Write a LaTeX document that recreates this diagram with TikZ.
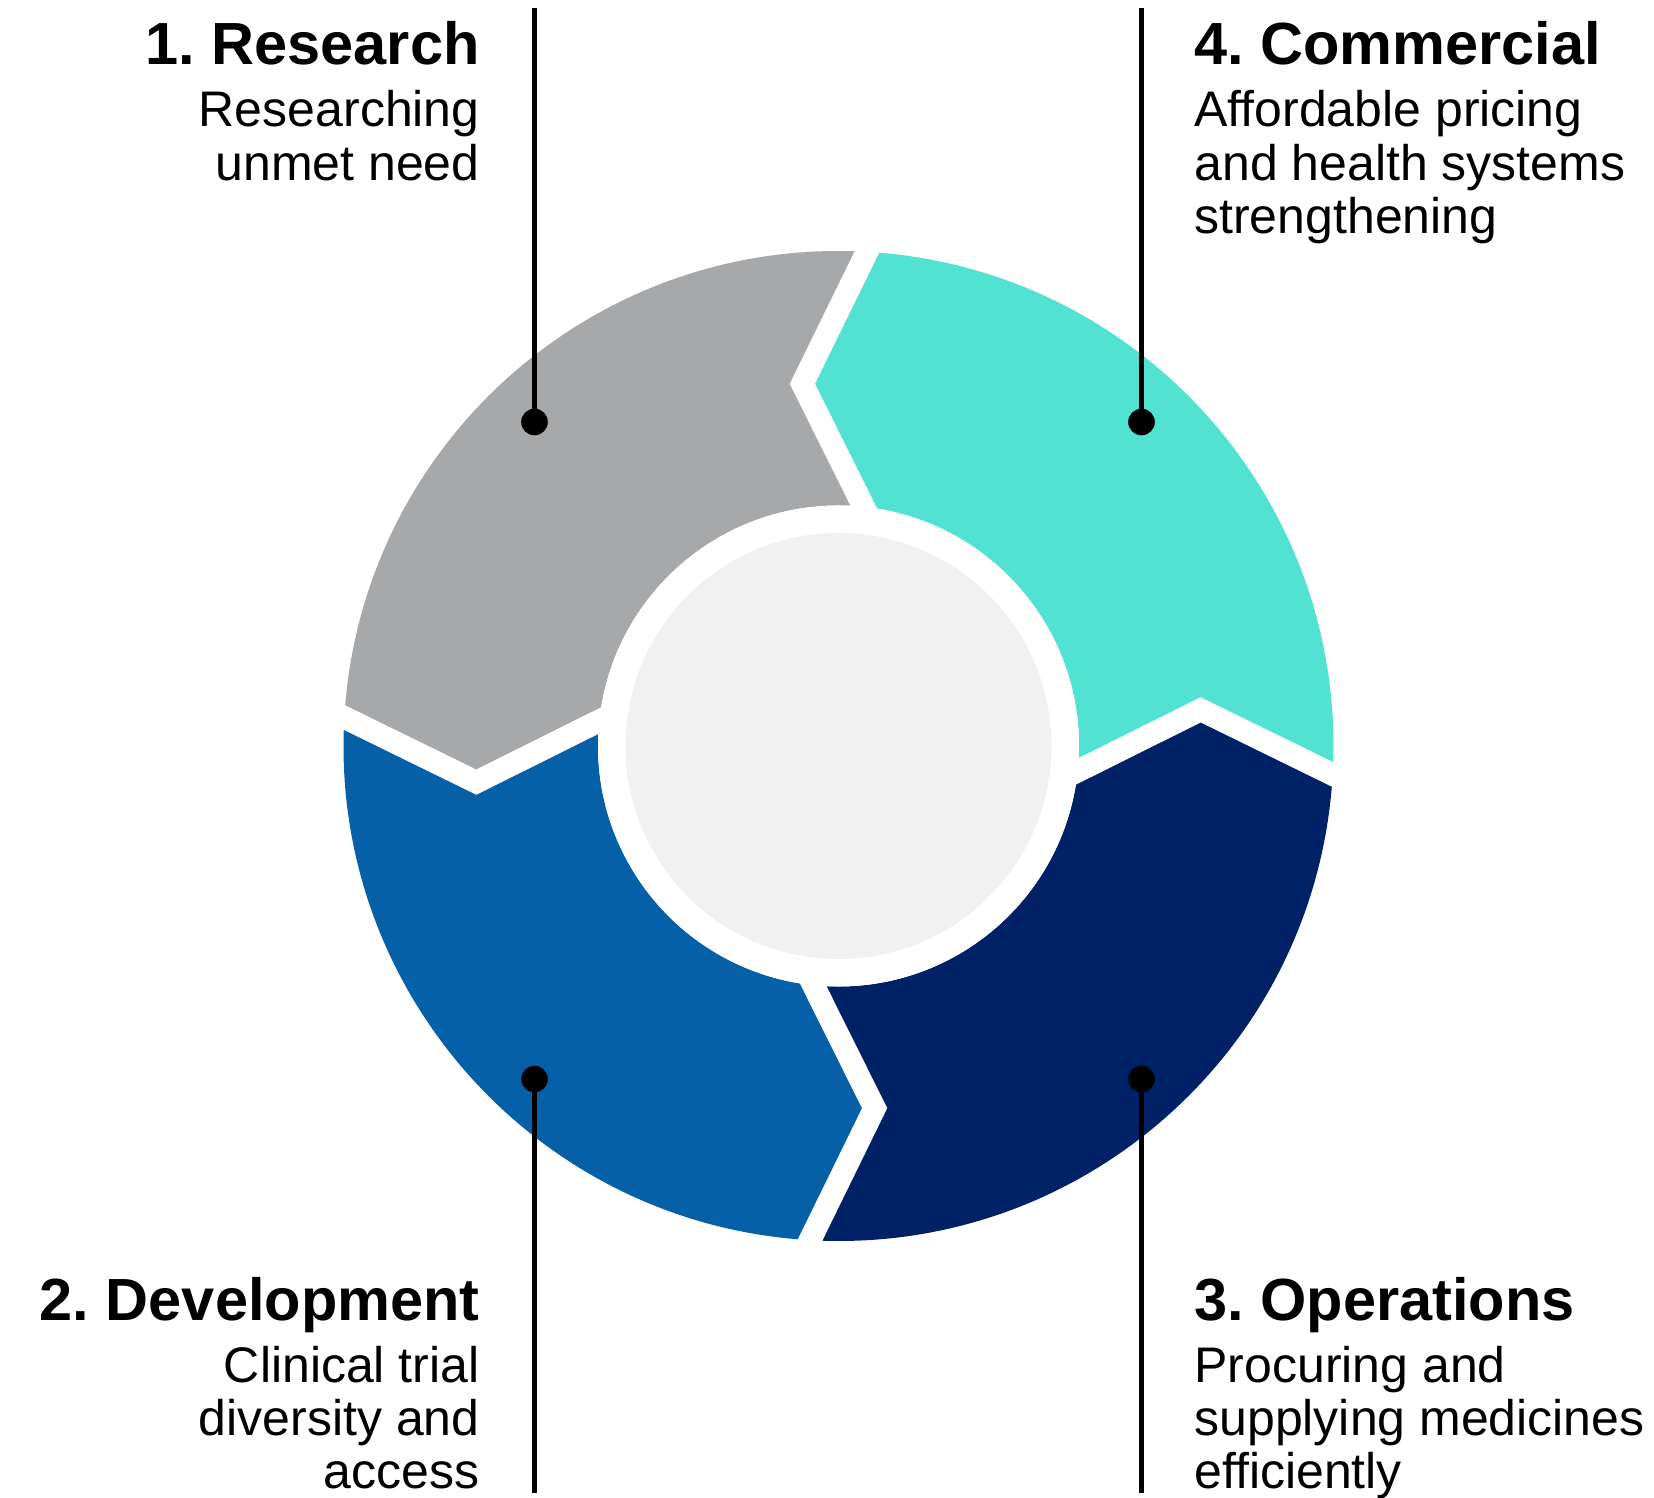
\documentclass[tikz,border=0pt]{standalone}
\usepackage{fontspec}
\setmainfont{Liberation Sans}
\usetikzlibrary{positioning,calc}
\definecolor{researchgray}{HTML}{A7A8AA}
\definecolor{devblue}{HTML}{0660A8}
\definecolor{opsnavy}{HTML}{002166}
\definecolor{commteal}{HTML}{52E2D2}
\definecolor{hubgray}{HTML}{F1F1F1}
\tikzstyle{stagetitle} = [inner sep=0pt, font=\fontsize{29.75}{34}\selectfont\bfseries\frenchspacing]
\tikzstyle{desc} = [inner sep=0pt, font=\fontsize{25}{26.65}\selectfont]
\tikzstyle{leader} = [draw, line width=2.3pt]
\tikzstyle{leaderdot} = [circle, fill=black, inner sep=0pt, minimum size=13.3pt]
\tikzstyle{gapline} = [draw=white, line width=11.3pt, miter limit=10]
\def\ringout{495}
\def\ringin{240.5}
\def\ringmid{364}
\def\hubr{213}

\begin{document}
\begin{tikzpicture}[x=0.5pt, y=0.5pt]
    \useasboundingbox (-838.5,-752) rectangle (815.5,746);
    % chevron corners between the stages
    \coordinate (o0) at (-3.3:\ringout);
    \coordinate (m0) at (5.7:\ringmid);
    \coordinate (i0) at (-6:\ringin);
    \coordinate (o1) at (86.7:\ringout);
    \coordinate (m1) at (95.7:\ringmid);
    \coordinate (i1) at (84:\ringin);
    \coordinate (o2) at (176.7:\ringout);
    \coordinate (m2) at (185.7:\ringmid);
    \coordinate (i2) at (174:\ringin);
    \coordinate (o3) at (266.7:\ringout);
    \coordinate (m3) at (275.7:\ringmid);
    \coordinate (i3) at (264:\ringin);
    % ring segments
    \fill [commteal] (o0) arc[start angle=-3.3, end angle=86.7, radius=\ringout] -- (m1) -- (i1) arc[start angle=84, end angle=-6, radius=\ringin] -- (m0) -- cycle;
    \fill [researchgray] (o1) arc[start angle=86.7, end angle=176.7, radius=\ringout] -- (m2) -- (i2) arc[start angle=174, end angle=84, radius=\ringin] -- (m1) -- cycle;
    \fill [devblue] (o2) arc[start angle=176.7, end angle=266.7, radius=\ringout] -- (m3) -- (i3) arc[start angle=264, end angle=174, radius=\ringin] -- (m2) -- cycle;
    \fill [opsnavy] (o3) arc[start angle=266.7, end angle=356.7, radius=\ringout] -- (m0) -- (i0) arc[start angle=354, end angle=264, radius=\ringin] -- (m3) -- cycle;
    \path [gapline] ($(m0)!1.3!(o0)$) -- (m0) -- ($(m0)!1.3!(i0)$);
    \path [gapline] ($(m1)!1.3!(o1)$) -- (m1) -- ($(m1)!1.3!(i1)$);
    \path [gapline] ($(m2)!1.3!(o2)$) -- (m2) -- ($(m2)!1.3!(i2)$);
    \path [gapline] ($(m3)!1.3!(o3)$) -- (m3) -- ($(m3)!1.3!(i3)$);
    \fill [white] (0,0) circle[radius=\ringin];
    \fill [hubgray] (0,0) circle[radius=\hubr];

    % leaders
    \node [leaderdot] (dotresearch) at (-304,324) {};
    \node [leaderdot] (dotcommercial) at (303,324) {};
    \node [leaderdot] (dotdevelopment) at (-304,-333) {};
    \node [leaderdot] (dotoperations) at (303,-333) {};
    \coordinate (endresearch) at (-304,737.6);
    \coordinate (endcommercial) at (303,737.6);
    \coordinate (enddevelopment) at (-304,-746.6);
    \coordinate (endoperations) at (303,-746.6);
    \path [leader] (endresearch) -- (dotresearch.center);
    \path [leader] (endcommercial) -- (dotcommercial.center);
    \path [leader] (enddevelopment) -- (dotdevelopment.center);
    \path [leader] (endoperations) -- (dotoperations.center);

    % labels (base of a desc node is its last line)
    \node [stagetitle, anchor=base east] (research) at (-358.5,681) {1. Research};
    \node [desc, align=right, below=57.65pt of research.base east, anchor=base east] (researchtxt) {Researching\\unmet need};
    \node [stagetitle, anchor=base west] (commercial) at (355.5,681) {4. Commercial};
    \node [desc, align=left, below=84.3pt of commercial.base west, anchor=base west] (commercialtxt) {Affordable pricing\\and health systems\\strengthening};
    \node [stagetitle, anchor=base east] (development) at (-358.5,-574) {2. Development};
    \node [desc, align=right, below=84.3pt of development.base east, anchor=base east] (developmenttxt) {Clinical trial\\diversity and\\access};
    \node [stagetitle, anchor=base west] (operations) at (355.5,-574) {3. Operations};
    \node [desc, align=left, below=84.3pt of operations.base west, anchor=base west] (operationstxt) {Procuring and\\supplying medicines\\efficiently};
\end{tikzpicture}
\end{document}
